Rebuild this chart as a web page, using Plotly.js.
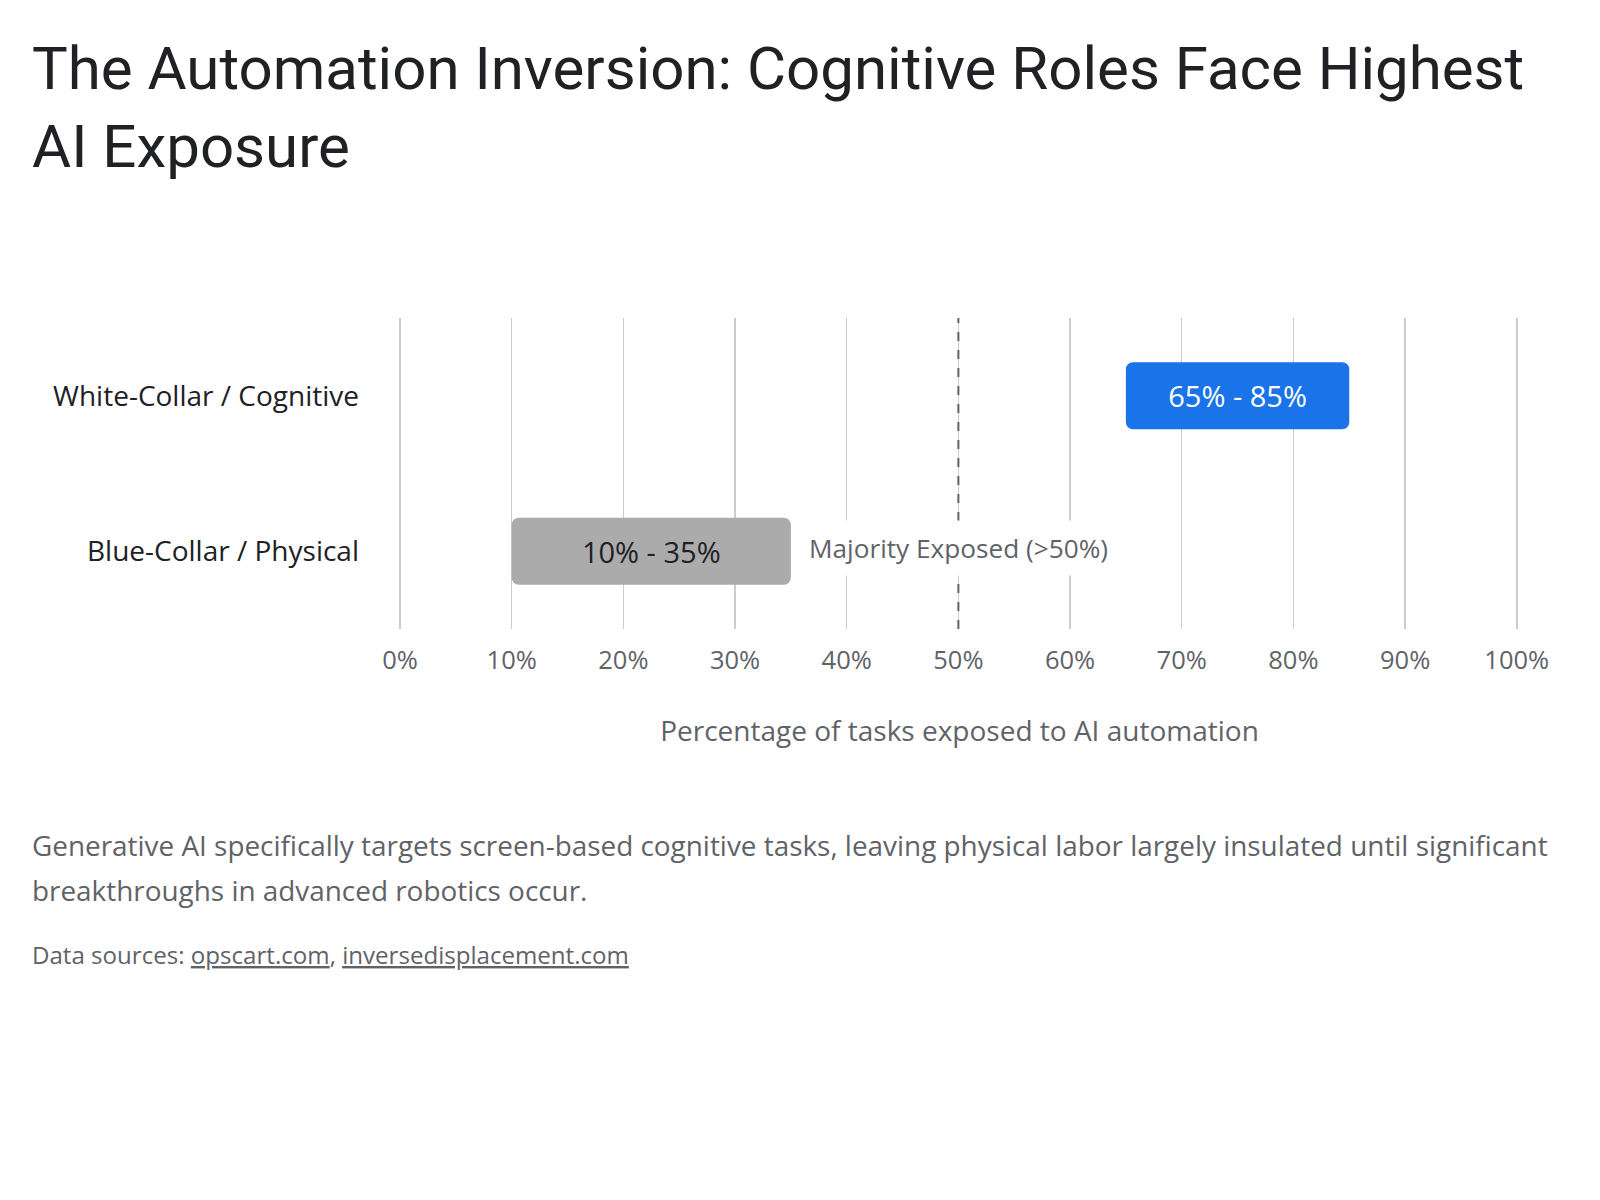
<!DOCTYPE html>
<html>
<head>
<meta charset="utf-8">
<script src="https://cdn.plot.ly/plotly-3.0.1.min.js"></script>
<style>
  html, body { margin: 0; padding: 0; background: #ffffff; }
  #chart { width: 1600px; height: 1200px; }
</style>
</head>
<body>
<div id="chart"></div>
<script>
// ---- Data ----
const categories = ["Blue-Collar / Physical", "White-Collar / Cognitive"];
const rangeStart = [10, 65];
const rangeEnd = [35, 85];
const barColors = ["#ababab", "#1a73e8"];
const labelColors = ["#202124", "#ffffff"];
const thresholdValue = 50;
const thresholdLabel = "Majority Exposed (>50%)";
const xTickVals = [0, 10, 20, 30, 40, 50, 60, 70, 80, 90, 100];
const xTickLabels = ["0%", "10%", "20%", "30%", "40%", "50%", "60%", "70%", "80%", "90%", "100%"];

const titleText = "The Automation Inversion: Cognitive Roles Face Highest<br>AI Exposure";
const xAxisTitle = "Percentage of tasks exposed to AI automation";
const captionLine1 = "Generative AI specifically targets screen-based cognitive tasks, leaving physical labor largely insulated until significant";
const captionLine2 = "breakthroughs in advanced robotics occur.";
const sourcesText = 'Data sources: <span style="text-decoration:underline">opscart.com</span>, <span style="text-decoration:underline">inversedisplacement.com</span>';

// ---- Layout helpers (pixel -> paper) ----
const PL = 400, PR = 1519, PT = 318, PB = 629;
const W = 1600, H = 1200;
function px(X) { return (X - PL) / (PR - PL); }
function py(Y) { return (PB - Y) / (PB - PT); }

const FONT = "'Open Sans', Roboto, sans-serif";
const TFONT = "Roboto, 'Open Sans', sans-serif";

const widths = rangeStart.map((s, i) => rangeEnd[i] - s);
const labels = rangeStart.map((s, i) => s + "% - " + rangeEnd[i] + "%");

const trace = {
  type: "bar",
  orientation: "h",
  y: categories,
  x: widths,
  base: rangeStart,
  width: 0.43,
  marker: { color: barColors, line: { width: 0 } },
  text: labels,
  textposition: "inside",
  insidetextanchor: "middle",
  textfont: { family: FONT, size: 29, color: labelColors },
  hoverinfo: "skip",
  cliponaxis: false
};

const layout = {
  width: W,
  height: H,
  paper_bgcolor: "#ffffff",
  plot_bgcolor: "#ffffff",
  margin: { l: PL, r: W - PR, t: PT, b: H - PB },
  showlegend: false,
  barcornerradius: 7,
  font: { family: FONT, color: "#202124" },
  title: {
    text: titleText,
    font: { family: TFONT, size: 60, color: "#202124" },
    xref: "container", yref: "container",
    x: 32 / W, xanchor: "left",
    y: 1 - 89 / H, yanchor: "top"
  },
  xaxis: {
    range: [0, 100.2],
    tickvals: xTickVals,
    ticktext: xTickLabels,
    showgrid: true,
    gridcolor: "#cccccc",
    gridwidth: 1.5,
    zeroline: true,
    zerolinecolor: "#cccccc",
    zerolinewidth: 1.5,
    showline: false,
    ticks: "",
    tickfont: { family: FONT, size: 25.5, color: "#5f6368" },
    ticklabelstandoff: 13,
    fixedrange: true,
    title: {
      text: xAxisTitle,
      font: { family: FONT, size: 28, color: "#5f6368" },
      standoff: 46
    }
  },
  yaxis: {
    type: "category",
    categoryorder: "array",
    categoryarray: categories,
    showgrid: false,
    zeroline: false,
    showline: false,
    ticks: "",
    ticklabelstandoff: 40,
    tickfont: { family: FONT, size: 28, color: "#202124" },
    fixedrange: true
  },
  shapes: [{
    type: "line",
    xref: "x", yref: "paper",
    x0: thresholdValue, x1: thresholdValue, y0: 0, y1: 1,
    line: { color: "#5f6368", width: 2, dash: "dash" },
    layer: "above"
  }],
  annotations: [
    {
      xref: "x", yref: "paper",
      x: thresholdValue, y: py(548),
      text: thresholdLabel,
      showarrow: false,
      xanchor: "center", yanchor: "middle",
      bgcolor: "#ffffff",
      borderpad: 9,
      font: { family: FONT, size: 26.2, color: "#5f6368" }
    },
    {
      xref: "paper", yref: "paper",
      x: px(30), y: py(845),
      text: captionLine1,
      showarrow: false, xanchor: "left", yanchor: "middle",
      font: { family: FONT, size: 27.9, color: "#5f6368" }
    },
    {
      xref: "paper", yref: "paper",
      x: px(30), y: py(890),
      text: captionLine2,
      showarrow: false, xanchor: "left", yanchor: "middle",
      font: { family: FONT, size: 27.9, color: "#5f6368" }
    },
    {
      xref: "paper", yref: "paper",
      x: px(30), y: py(955),
      text: sourcesText,
      showarrow: false, xanchor: "left", yanchor: "middle",
      font: { family: FONT, size: 24.1, color: "#5f6368" }
    }
  ]
};

Plotly.newPlot("chart", [trace], layout, { displayModeBar: false, staticPlot: true });
</script>
</body>
</html>
